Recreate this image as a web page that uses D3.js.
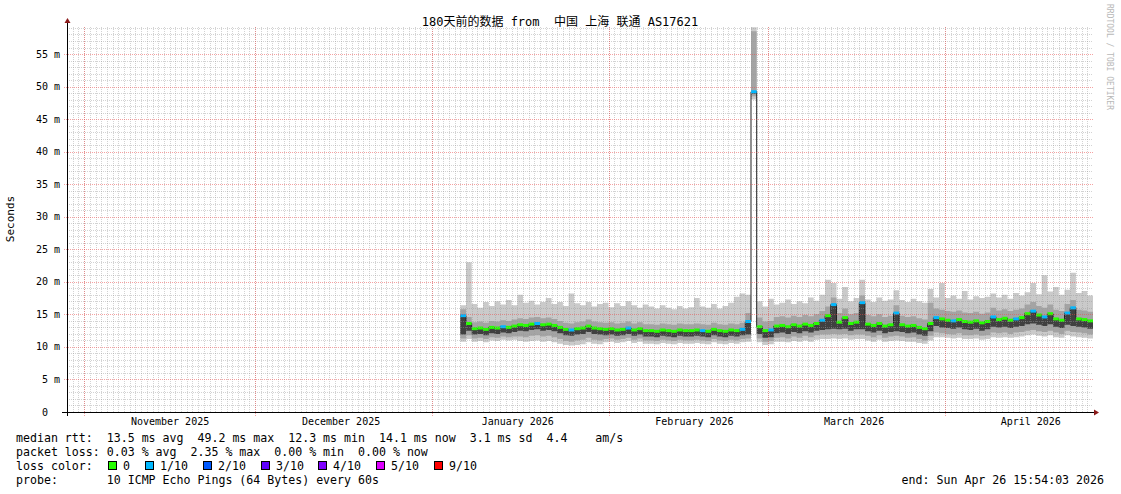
<!DOCTYPE html>
<html><head><meta charset="utf-8">
<script src="https://cdn.jsdelivr.net/npm/d3@7"></script>
<style>body{margin:0;background:#fff}svg text{font-family:"DejaVu Sans Mono","Noto Sans CJK SC",monospace;white-space:pre;}</style>
</head><body><svg id="c" width="1121" height="494"></svg>
<script>
const titleText = "180天前的数据 from  中国 上海 联通 AS17621";
const firstBin = "2026-01-06";
const yTickValues = [0,5,10,15,20,25,30,35,40,45,50,55];
const yTickLabels = ["0  ","5 m","10 m","15 m","20 m","25 m","30 m","35 m","40 m","45 m","50 m","55 m"];
const monthLabels = ["November 2025","December 2025","January 2026","February 2026","March 2026","April 2026"];
// one value per day, 2026-01-06 .. 2026-04-26
const med = [14.8,13.6,12.8,12.9,12.7,13.0,12.9,13.1,13.0,13.2, 13.4,13.3,13.5,13.6,13.4,13.5,13.3,13.0,12.7,12.6,
 12.8,12.9,13.2,12.9,12.8,12.7,12.8,12.6,12.7,12.9, 12.6,12.8,12.5,12.5,12.4,12.6,12.5,12.4,12.6,12.5,
 12.5,12.6,12.5,12.4,12.7,12.5,12.4,12.6,12.5,12.7, 13.9,49.2,13.1,12.5,12.6,13.2,13.3,13.1,13.4,13.2,
 13.5,13.3,13.6,14.1,14.8,16.5,13.8,14.5,13.6,13.8, 16.8,13.5,13.3,13.6,13.2,13.4,15.2,13.4,13.2,13.3,
 13.0,12.8,13.6,14.5,14.3,14.1,14.0,14.2,13.9,13.8, 14.0,13.7,13.9,14.6,14.2,14.4,14.1,14.3,14.5,15.1,
 15.5,14.9,14.6,15.1,14.3,14.1,15.2,16.0,14.3,14.2,14.0];
const lo = [10.8,11.2,10.8,10.9,10.7,11.0,10.9,11.1,11.0,11.1, 10.9,10.8,10.9,11.0,10.8,10.9,10.7,10.5,10.3,10.2,
 10.3,10.4,10.7,10.5,10.4,10.7,10.8,10.6,10.7,10.9, 10.6,10.8,10.5,10.5,10.4,10.6,10.5,10.4,10.6,10.5,
 10.5,10.6,10.5,10.4,10.7,10.5,10.4,10.6,10.5,10.7, 10.8,48.0,10.7,10.3,10.4,10.8,10.8,10.7,10.9,10.8,
 11.0,10.8,11.1,11.2,11.2,11.3,11.2,11.3,11.1,11.2, 11.2,11.0,10.8,11.1,10.8,10.9,11.0,10.9,10.8,10.8,
 10.6,10.5,11.0,11.5,11.5,11.4,11.3,11.4,11.2,11.2, 11.3,11.1,11.2,11.5,11.4,11.5,11.4,11.5,11.6,11.8,
 11.9,11.7,11.6,11.8,11.5,11.4,11.8,11.6,11.5,11.4,11.3];
const mlo = [11.3,11.8,11.3,11.4,11.2,11.5,11.4,11.6,11.5,11.6, 11.6,11.5,11.7,11.8,11.6,11.7,11.5,11.2,10.9,10.8,
 11.0,11.1,11.4,11.1,11.0,11.2,11.3,11.1,11.2,11.4, 11.1,11.3,11.0,11.0,10.9,11.1,11.0,10.9,11.1,11.0,
 11.0,11.1,11.0,10.9,11.2,11.0,10.9,11.1,11.0,11.2, 11.3,48.5,11.3,10.8,10.9,11.4,11.5,11.3,11.6,11.4,
 11.7,11.5,11.8,11.9,11.9,12.0,11.9,12.0,11.8,11.9, 11.9,11.7,11.5,11.8,11.4,11.6,11.7,11.6,11.4,11.5,
 11.2,11.0,11.7,12.2,12.1,12.0,11.9,12.1,11.8,11.8, 11.9,11.7,11.8,12.2,12.1,12.2,12.0,12.2,12.3,12.5,
 12.6,12.4,12.3,12.5,12.2,12.0,12.5,12.3,12.2,12.1,11.9];
const clo = [11.9,12.5,11.9,12.0,11.8,12.1,12.0,12.2,12.1,12.3, 12.5,12.4,12.6,12.7,12.5,12.6,12.4,12.1,11.8,11.7,
 11.9,12.0,12.3,12.0,11.9,11.8,11.9,11.7,11.8,12.0, 11.7,11.9,11.6,11.6,11.5,11.7,11.6,11.5,11.7,11.6,
 11.6,11.7,11.6,11.5,11.8,11.6,11.5,11.7,11.6,11.8, 11.9,48.9,12.0,11.4,11.5,12.1,12.2,12.0,12.3,12.1,
 12.4,12.2,12.5,12.6,12.7,12.8,12.7,12.8,12.5,12.7, 12.7,12.4,12.2,12.5,12.1,12.3,12.4,12.3,12.1,12.2,
 11.9,11.7,12.4,13.2,13.0,12.9,12.8,13.0,12.7,12.6, 12.8,12.5,12.7,13.1,13.0,13.1,12.9,13.1,13.2,13.5,
 13.6,13.4,13.2,13.5,13.1,12.9,13.4,13.2,13.1,13.0,12.8];
const mhi = [15.8,14.6,13.8,13.9,13.7,14.0,13.9,14.1,14.0,14.2, 14.4,14.3,14.5,14.6,14.4,14.5,14.3,14.0,13.7,13.6,
 13.8,13.9,14.2,13.9,13.8,13.7,13.8,13.6,13.7,13.9, 13.6,13.8,13.5,13.5,13.4,13.6,13.5,13.4,13.6,13.5,
 13.5,13.6,13.5,13.4,13.7,13.5,13.4,13.6,13.5,13.7, 15.2,58.5,14.5,13.9,14.0,14.6,14.7,14.5,14.8,14.6,
 14.9,14.7,15.0,15.5,16.2,17.6,15.2,15.9,15.0,15.2, 17.9,14.9,14.7,15.0,14.6,14.8,16.4,14.8,14.6,14.7,
 14.4,14.2,16.8,15.9,15.7,15.5,15.4,15.6,15.3,15.2, 15.4,15.1,15.3,16.0,15.6,15.8,15.5,15.7,15.9,16.5,
 16.9,16.3,16.0,16.5,15.7,15.5,16.6,17.2,15.7,15.6,15.4];
const hi = [16.4,23.0,16.6,16.0,16.9,16.3,17.0,16.5,17.2,16.4, 18.0,16.8,17.1,16.5,16.9,17.5,16.6,16.9,16.3,18.2,
 16.7,16.4,16.9,16.2,16.6,16.8,16.1,16.7,16.3,17.0, 16.4,16.0,16.5,16.2,15.9,16.4,16.0,15.8,16.3,15.9,
 16.1,17.5,16.2,16.0,16.6,15.9,16.3,16.8,17.7,18.2, 18.0,59.1,17.0,16.2,17.4,16.5,16.8,17.3,16.6,17.0,
 16.7,17.6,17.1,18.0,20.3,19.8,17.4,19.2,17.0,17.5, 20.3,17.3,16.9,17.6,17.1,17.3,18.7,17.2,16.9,17.4,
 17.0,16.8,18.9,17.6,19.8,17.5,17.9,17.4,18.6,17.3, 17.8,17.5,17.7,18.2,17.6,18.0,17.4,18.3,17.9,18.4,
 19.8,18.1,21.0,18.5,19.2,18.0,18.8,21.4,18.3,18.6,17.9];
const loss = [1,0,0,0,0,0,0,1,0,0, 0,0,0,1,0,0,0,0,0,1, 0,0,0,0,0,0,0,0,0,1, 0,0,0,0,0,0,0,0,0,0,
 0,0,1,0,0,0,0,0,0,1, 1,1,0,0,1,0,0,0,0,0, 0,0,0,1,0,1,0,0,0,0, 1,0,0,0,0,0,1,0,0,0,
 0,0,0,1,0,0,1,0,0,0, 0,0,0,1,0,0,0,1,0,0, 1,0,1,0,0,0,1,1,0,0,0];
const lossLabels = ["0","1/10","2/10","3/10","4/10","5/10","9/10"];
const lossColors = ["#26ff00","#00b8ff","#0059ff","#5e00ff","#7e00ff","#dd00ff","#ff0000"];
const legendLines = ["median rtt:  13.5 ms avg  49.2 ms max  12.3 ms min  14.1 ms now  3.1 ms sd  4.4    am/s",
  "packet loss: 0.03 % avg  2.35 % max  0.00 % min  0.00 % now",
  "loss color:",
  "probe:       10 ICMP Echo Pings (64 Bytes) every 60s"];
const endText = "end: Sun Apr 26 15:54:03 2026";

const svg = d3.select("#c");
const X0=67, X1=1093, YB=412, YT=27;
const x = d3.scaleUtc().domain([Date.UTC(2025,9,29), Date.UTC(2026,3,27)]).range([X0,X1]);
const y = d3.scaleLinear().domain([0,59.15]).range([YB,YT]);
const day=86400000;
const t0 = Date.parse(firstBin+"T00:00:00Z");
const pts = med.map((m,i)=>({t:t0+i*day,med:m,lo:lo[i],mlo:mlo[i],clo:clo[i],mhi:mhi[i],hi:hi[i],loss:loss[i]}));
const ext = pts.concat([{...pts[pts.length-1], t:t0+pts.length*day}]);
const area=(a,b)=>d3.area().curve(d3.curveStepAfter).x(d=>x(d.t)).y0(d=>y(d[a])).y1(d=>y(d[b]));
svg.append("path").datum(ext).attr("d",area("lo","hi")).attr("fill","#cacaca");
svg.append("path").datum(ext).attr("d",area("mlo","mhi")).attr("fill","#a4a4a4");
svg.append("path").datum(ext).attr("d",area("clo","med")).attr("fill","#404040");
svg.append("path").datum(ext).attr("d",d3.line().curve(d3.curveStepAfter).x(d=>x(d.t)).y(d=>y(d.med)))
  .attr("fill","none").attr("stroke","#202020");
pts.forEach(p=>{
  svg.append("line").attr("x1",x(p.t)).attr("x2",x(p.t+day)).attr("y1",y(p.med)).attr("y2",y(p.med))
    .attr("stroke",lossColors[p.loss]).attr("stroke-width",3);
});
// grid (drawn over the graph like rrdtool)
const g = svg.append("g");
const minorC="rgba(150,150,150,0.42)", majorC="rgba(235,70,70,0.5)";
d3.range(1,60).filter(v=>v%5).forEach(v=>{
  const yy=Math.round(y(v))+0.5;
  g.append("line").attr("x1",X0).attr("x2",X1).attr("y1",yy).attr("y2",yy).attr("stroke",minorC).attr("stroke-dasharray","1,1");
});
d3.utcDay.range(x.domain()[0], x.domain()[1]).forEach(d=>{
  const xx=Math.round(x(d))+0.5;
  g.append("line").attr("x1",xx).attr("x2",xx).attr("y1",YT).attr("y2",YB).attr("stroke",minorC).attr("stroke-dasharray","1,1");
});
yTickValues.slice(1).forEach(v=>{
  const yy=Math.round(y(v))+0.5;
  g.append("line").attr("x1",X0-3).attr("x2",X1).attr("y1",yy).attr("y2",yy).attr("stroke",majorC).attr("stroke-dasharray","1,1");
});
const months = d3.utcMonth.range(Date.UTC(2025,10,1), Date.UTC(2026,4,1));
months.forEach(d=>{
  const xx=Math.round(x(d))+0.5;
  g.append("line").attr("x1",xx).attr("x2",xx).attr("y1",YT).attr("y2",YB+4).attr("stroke",majorC).attr("stroke-dasharray","1,1");
});
// axes
svg.append("line").attr("x1",X0-5).attr("x2",X1+1).attr("y1",YB+0.5).attr("y2",YB+0.5).attr("stroke","#000");
svg.append("line").attr("x1",X0+0.5).attr("x2",X0+0.5).attr("y1",YB+4).attr("y2",YT-4).attr("stroke","#000");
svg.append("path").attr("d",`M${X1+1},${YB-2.5}L${X1+6},${YB+0.5}L${X1+1},${YB+3.5}Z`).attr("fill","#8b1a1a");
svg.append("path").attr("d",`M${X0-2.5},${YT-4}L${X0+0.5},${YT-9}L${X0+3.5},${YT-4}Z`).attr("fill","#8b1a1a");
// labels
yTickValues.forEach((v,i)=>{
  svg.append("text").attr("x",60).attr("y",y(v)+3.5).attr("text-anchor","end").attr("font-size",10).text(yTickLabels[i]);
});
months.forEach((d,i)=>{
  svg.append("text").attr("x",x(d3.utcHour.offset(d,362))).attr("y",425).attr("text-anchor","middle").attr("font-size",10).text(monthLabels[i]);
});
svg.append("text").attr("x",560).attr("y",25.5).attr("text-anchor","middle").attr("font-size",12).text(titleText);
svg.append("text").attr("transform","translate(14,219) rotate(-90)").attr("text-anchor","middle").attr("font-size",11).text("Seconds");
svg.append("text").attr("transform","translate(1107,4) rotate(90)").attr("font-size",8).attr("fill","#b8b8b8").text("RRDTOOL / TOBI OETIKER");
const L = svg.append("g").attr("font-size",11.6);
legendLines.forEach((s,i)=>L.append("text").attr("x",16).attr("y",442+14*i).text(s));
L.append("text").attr("x",1104).attr("y",484).attr("text-anchor","end").text(endText);
const boxX=[108,145,203,261,318,376,434];
lossLabels.forEach((t,i)=>{
  L.append("rect").attr("x",boxX[i]+0.5).attr("y",461.5).attr("width",8).attr("height",8).attr("fill",lossColors[i]).attr("stroke","#000");
  L.append("text").attr("x",boxX[i]+15).attr("y",470).text(t);
});
</script></body></html>
